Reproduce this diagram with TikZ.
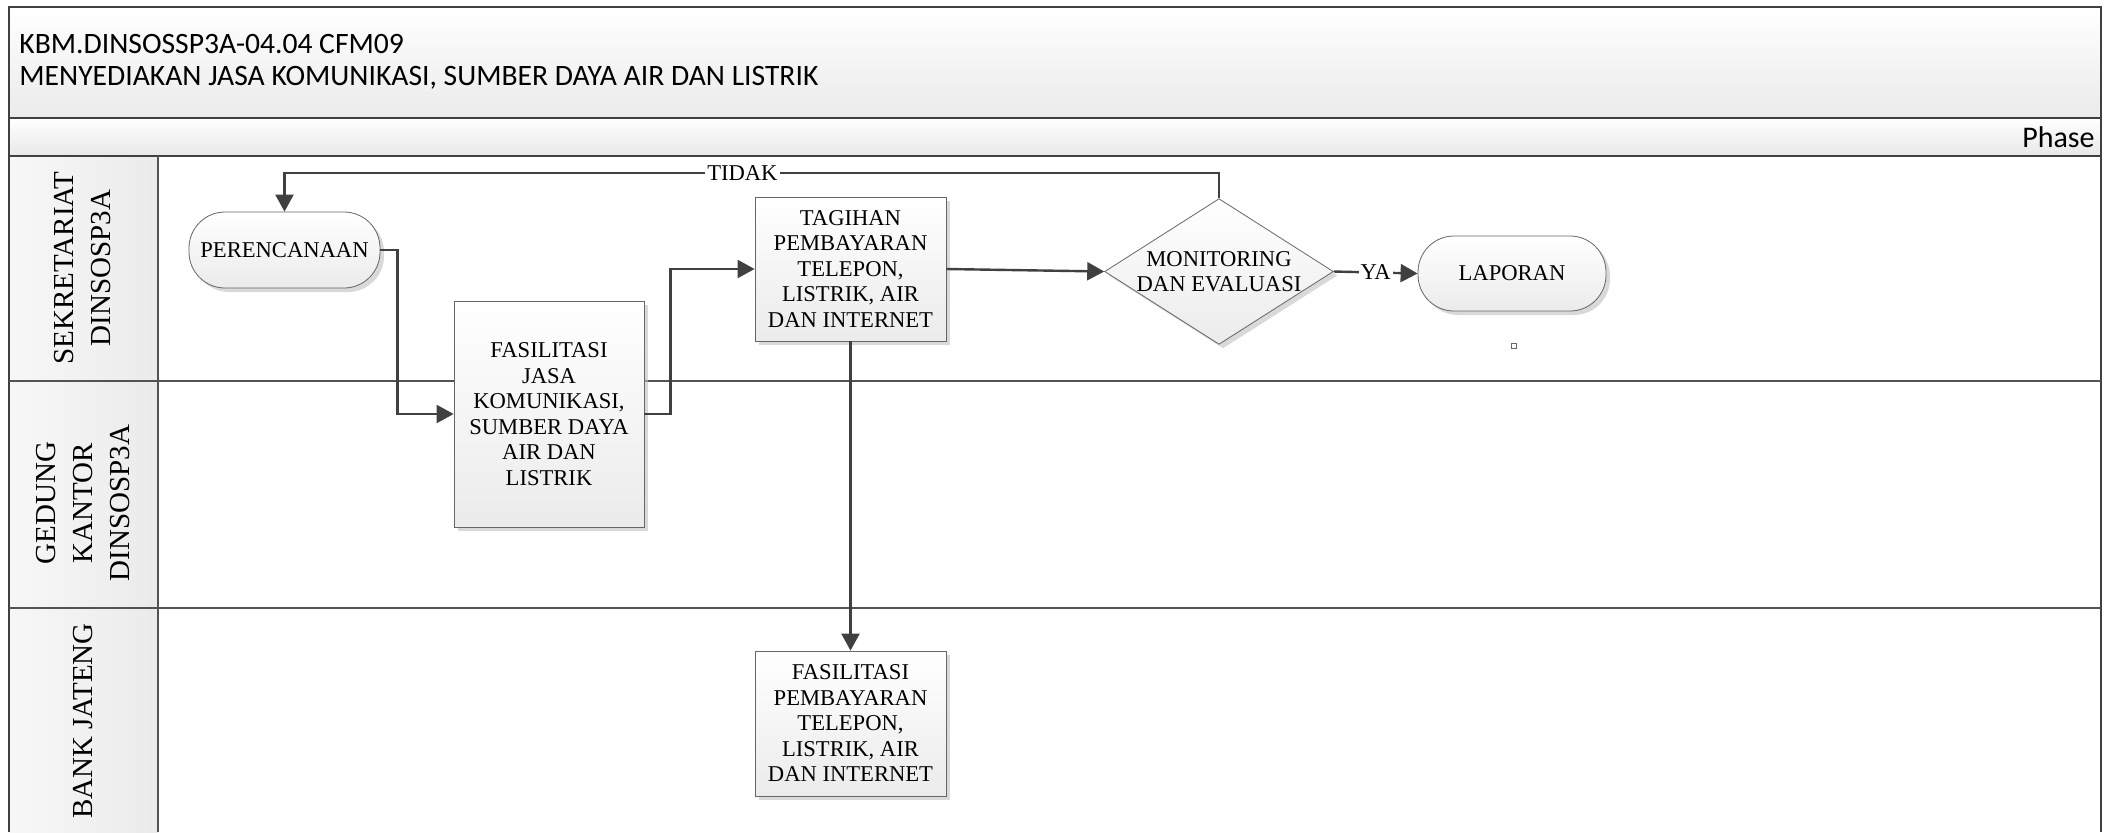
\documentclass[tikz,border=0pt]{standalone}
\usepackage{fontspec}
\usepackage{tikz}
\usetikzlibrary{shapes.geometric,arrows.meta,shadows}
\newfontfamily\titlefont{Carlito}
\newfontfamily\boxfont{Liberation Serif}
\definecolor{linegray}{HTML}{404040}
\definecolor{boxgray}{HTML}{EBEBEB}
\tikzset{
  frame/.style={draw=linegray,line width=0.8pt},
  laneline/.style={draw=linegray!90,line width=0.6pt},
  box/.style={draw=black!60,line width=0.4pt,top color=white,bottom color=boxgray,
    drop shadow={shadow xshift=2pt,shadow yshift=-2pt,fill=black!25,opacity=0.6},
    font=\boxfont\fontsize{11.3}{12.75}\selectfont,align=center,inner sep=1pt},
  terminal/.style={box,rounded corners=18pt},
  decision/.style={box,diamond,aspect=1.57,inner sep=0pt},
  flow/.style={draw=linegray,line width=1.2pt,-{Triangle[length=8.5pt,width=9pt]}},
  lbl/.style={fill=white,inner sep=1pt,font=\boxfont\fontsize{11.3}{12}\selectfont},
  lanename/.style={rotate=90,align=center,font=\boxfont\fontsize{14.5}{18.5}\selectfont}
}

\begin{document}
\begin{tikzpicture}[x=0.5pt,y=-0.5pt]
\useasboundingbox (0,0) rectangle (2104,832);

% header and phase bar
\shade[top color=white,bottom color=black!8] (9,7) rectangle (2101,118);
\shade[top color=white,bottom color=black!9] (9,118) rectangle (2101,156);
\shade[left color=black!3,right color=black!8] (9,156) rectangle (158,832);
\draw[frame] (9,832) -- (9,7) -- (2101,7) -- (2101,832);
\draw[frame] (9,118) -- (2101,118);
\draw[frame] (9,156) -- (2101,156);
\draw[laneline] (158,156) -- (158,832);
\draw[laneline] (9,381) -- (2101,381);
\draw[laneline] (9,608) -- (2101,608);

\node[anchor=west,font=\titlefont\fontsize{14.8}{17}\selectfont,inner sep=0pt] (code) at (19,44) {KBM.DINSOSSP3A-04.04 CFM09};
\node[anchor=west,font=\titlefont\fontsize{14.8}{17}\selectfont,inner sep=0pt] (title) at (19,78) {MENYEDIAKAN JASA KOMUNIKASI, SUMBER DAYA AIR DAN LISTRIK};
\node[anchor=east,font=\titlefont\fontsize{15}{17}\selectfont,inner sep=0pt] (phase) at (2095,137) {Phase};

% lanes
\node[lanename] (lane1) at (83,268) {SEKRETARIAT\\DINSOSP3A};
\node[lanename] (lane2) at (83,503) {GEDUNG\\KANTOR\\DINSOSP3A};
\node[lanename] (lane3) at (83,721) {BANK JATENG};

% steps
\node[terminal,minimum width=95.5pt,minimum height=38pt] (plan) at (284.5,250) {PERENCANAAN};
\node[box,minimum width=95pt,minimum height=113pt] (jasa) at (549,414) {FASILITASI\\JASA\\KOMUNIKASI,\\SUMBER DAYA\\AIR DAN\\LISTRIK};
\node[box,minimum width=95.5pt,minimum height=72pt] (tagih) at (850.5,269) {TAGIHAN\\PEMBAYARAN\\TELEPON,\\LISTRIK, AIR\\DAN INTERNET};
\node[decision,minimum width=112pt,minimum height=71.5pt] (monev) at (1219,271.5) {MONITORING\\DAN EVALUASI};
\node[terminal,minimum width=94pt,minimum height=37.5pt] (lap) at (1512,273.5) {LAPORAN};
\node[box,minimum width=95.5pt,minimum height=72.5pt] (bayar) at (850.5,723.5) {FASILITASI\\PEMBAYARAN\\TELEPON,\\LISTRIK, AIR\\DAN INTERNET};
\node[draw=black!60,line width=0.3pt,minimum size=2.5pt,inner sep=0pt] (dot) at (1514,346) {};

% arrows
\draw[flow] (plan.east) -- ++(17,0) |- (jasa.west);
\draw[flow] (jasa.east) -- ++(26,0) |- (tagih.west);
\draw[flow] (tagih.east) -- (monev.west);
\draw[flow] (monev.east) -- node[lbl] {YA} (lap.west);
\draw[flow] (monev.north) -- ++(0,-25) -| node[lbl,pos=0.255] {TIDAK} (plan.north);
\draw[flow] (tagih.south) -- (bayar.north);
\end{tikzpicture}
\end{document}
